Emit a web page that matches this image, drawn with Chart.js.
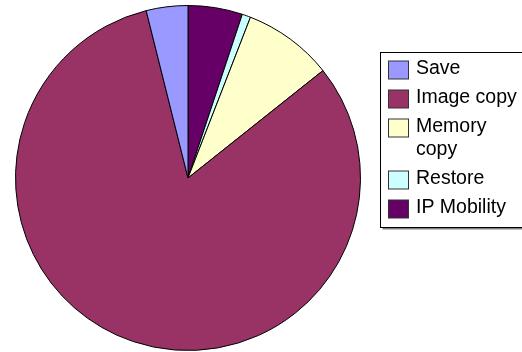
<!DOCTYPE html>
<html>
<head>
<meta charset="utf-8">
<script src="https://cdn.jsdelivr.net/npm/chart.js@4"></script>
<style>
  html, body { margin: 0; padding: 0; background: #fff; }
  #wrap { width: 522px; height: 352px; position: relative; }
</style>
</head>
<body>
<div id="wrap"><canvas id="chartPie" width="522" height="352"></canvas></div>
<script>
// data kategori (urutan legenda)
const categories = ['Save', 'Image copy', 'Memory copy', 'Restore', 'IP Mobility'];
const shares = [3.9, 81.8, 8.4, 0.8, 5.1];
const colors = ['#9999FF', '#993366', '#FFFFCC', '#CCFFFF', '#660066'];

// pie digambar searah jarum jam dari atas: urutan dibalik
const pieLabels = categories.slice().reverse();
const pieValues = shares.slice().reverse();
const pieColors = colors.slice().reverse();

// legenda kotak ala Excel
const boxLegend = {
  id: 'boxLegend',
  afterDraw(chart) {
    const c = chart.ctx;
    const x0 = 380.5, y0 = 52.5, w = 200, h = 175;
    c.save();
    // bayangan
    c.fillStyle = '#808080';
    c.fillRect(x0 + 2, y0 + h, w, 2);
    c.fillStyle = '#fff';
    c.fillRect(x0, y0, w, h);
    c.strokeStyle = '#000';
    c.lineWidth = 1;
    c.strokeRect(x0, y0, w, h);

    c.font = '19.5px "Liberation Sans", Arial, sans-serif';
    c.textBaseline = 'middle';
    const maxW = 106;
    let y = 70;
    categories.forEach((name, i) => {
      c.fillStyle = colors[i];
      c.fillRect(388.5, y - 9, 20, 18);
      c.strokeStyle = '#333';
      c.strokeRect(388.5, y - 9, 20, 18);
      // bungkus teks
      const words = name.split(' ');
      const lines = [];
      let line = '';
      words.forEach(wd => {
        const test = line ? line + ' ' + wd : wd;
        if (c.measureText(test).width > maxW && line) {
          lines.push(line);
          line = wd;
        } else {
          line = test;
        }
      });
      lines.push(line);
      c.fillStyle = '#000';
      lines.forEach((ln, k) => c.fillText(ln, 416, y - 1.5 + k * 23));
      y += 29 + (lines.length - 1) * 23;
    });
    c.restore();
  }
};

const ctx = document.getElementById('chartPie');
new Chart(ctx, {
  type: 'pie',
  data: {
    labels: pieLabels,
    datasets: [{
      data: pieValues,
      backgroundColor: pieColors,
      borderColor: '#000',
      borderWidth: 1
    }]
  },
  options: {
    responsive: false,
    animation: false,
    layout: { padding: { left: 15, right: 161, top: 5, bottom: 1 } },
    plugins: {
      legend: { display: false },
      tooltip: { enabled: false }
    }
  },
  plugins: [boxLegend]
});
</script>
</body>
</html>
